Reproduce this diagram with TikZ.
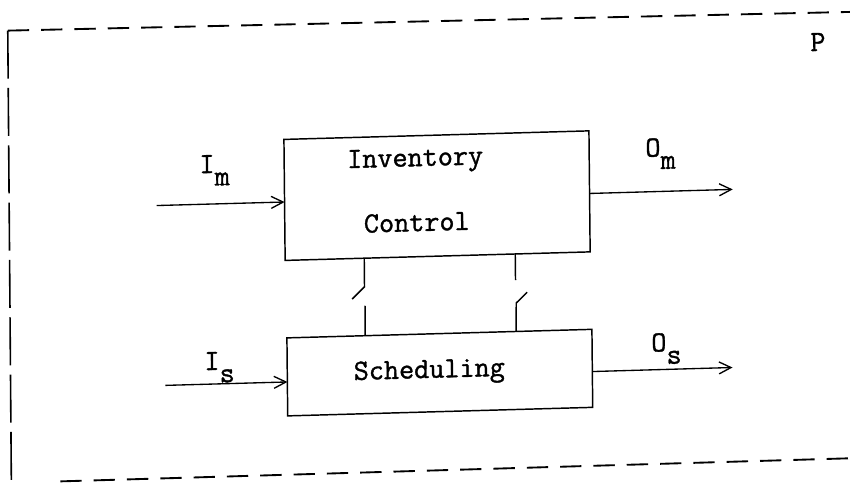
\documentclass[tikz,border=0pt]{standalone}
\usepackage{fontspec}
\newfontfamily\typer{Latin Modern Mono}[BoldFont={Latin Modern Mono},BoldFeatures={FakeBold=1.2}]
\usetikzlibrary{arrows.meta,calc}
\begin{document}
\begin{tikzpicture}[x=0.75pt,y=-0.75pt,
  box/.style={draw, line width=1.1pt, inner sep=0pt, outer sep=0pt, transform shape},
  txt/.style={font=\fontsize{22}{26}\selectfont\typer\bfseries, inner sep=0pt, anchor=base, transform shape},
  lbl/.style={txt, anchor=base west},
  flow/.style={line width=1pt, -{Straight Barb[length=9pt,width=9pt,line width=1pt]}},
  link/.style={line width=1.1pt},
  frameh/.style={line width=1.4pt, dash pattern=on 16pt off 9pt},
  framev/.style={line width=1.2pt, dash pattern=on 36pt off 7pt}]
\useasboundingbox (0,0) rectangle (850,484);
\clip (0,0) rectangle (850,484);
% the whole sheet sits slightly askew
\begin{scope}[cm={1,0.028,-0.01,1,(-1.815pt,-8.925pt)}]
  % dashed outline of the plant P
  \coordinate (ftl) at (10,19);
  \coordinate (ftr) at (870,24);
  \coordinate (fbl) at (9,500);
  \coordinate (fb1) at (58,471);
  \coordinate (fb2) at (870,470);
  \draw[frameh] (ftl) -- (ftr);
  \draw[framev] (ftl) -- (fbl);
  \draw[frameh] (fb1) -- (fb2);
  \node[lbl] (p) at (812,62) {P};

  % the two subsystems
  \node[box, minimum width=228.75pt, minimum height=90.75pt] (inv) at (437.5,196) {};
  \node[box, minimum width=228.75pt, minimum height=58.5pt] (sch) at (438.5,373) {};
  \node[txt] (t1) at (416,166) {Inventory};
  \node[txt] (t2) at (417,231) {Control};
  \node[txt] (t3) at (428,378) {Scheduling};

  % inputs and outputs
  \coordinate (imin) at (157,198);
  \coordinate (omout) at (733,198);
  \coordinate (isin) at (164,378);
  \coordinate (osout) at (731,376);
  \draw[flow] (imin) -- ($(inv.south west)!0.483!(inv.north west)$);
  \draw[flow] ($(inv.south east)!0.483!(inv.north east)$) -- (omout);
  \draw[flow] (isin) -- ($(sch.south west)!0.436!(sch.north west)$);
  \draw[flow] ($(sch.south east)!0.46!(sch.north east)$) -- (osout);
  \node[lbl] (im) at (200,167) {I\raisebox{-9.5pt}{m}};
  \node[lbl] (om) at (646,163) {O\raisebox{-9.5pt}{m}};
  \node[lbl] (is) at (203,364) {I\raisebox{-9.5pt}{s}};
  \node[lbl] (os) at (650,358) {O\raisebox{-9.5pt}{s}};

  % switches coupling the two subsystems
  \coordinate (s1a) at (364,285);
  \coordinate (s1b) at (351.5,297);
  \coordinate (s1c) at (364.5,304);
  \draw[link] ($(inv.south west)!0.259!(inv.south east)$) -- (s1a) -- (s1b);
  \draw[link] (s1c) -- ($(sch.north west)!0.256!(sch.north east)$);
  \coordinate (s2a) at (515,282.5);
  \coordinate (s2b) at (515.5,305.5);
  \coordinate (s2c) at (526.5,295);
  \draw[link] ($(inv.south west)!0.754!(inv.south east)$) -- (s2a);
  \draw[link] ($(sch.north west)!0.751!(sch.north east)$) -- (s2b) -- (s2c);
\end{scope}
\end{tikzpicture}
\end{document}
